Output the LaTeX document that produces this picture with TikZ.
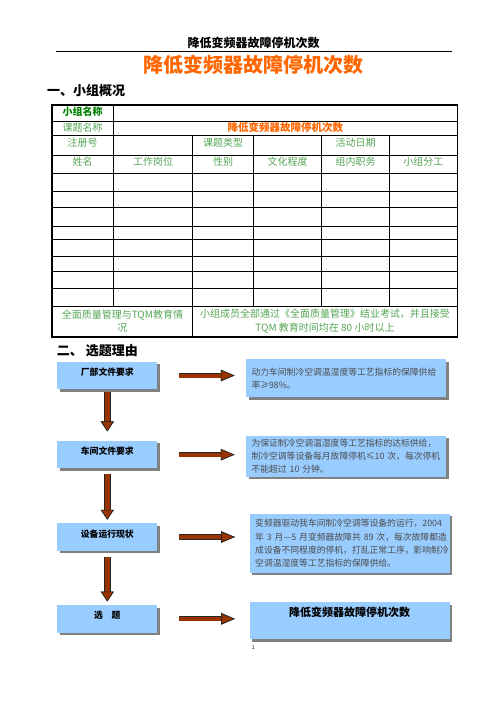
\documentclass[tikz,border=0pt]{standalone}
\usepackage{fontspec}
\setmainfont{Noto Sans CJK SC}
\usepackage{xcolor}
\usepackage{tikz}
\usetikzlibrary{arrows.meta,shadows}

\definecolor{boxblue}{RGB}{153,204,255}
\definecolor{arrowbrown}{RGB}{153,51,0}
\definecolor{titleorange}{RGB}{255,102,0}
\definecolor{darkgreen}{RGB}{0,128,0}
\definecolor{palegreen}{RGB}{85,165,85}

\begin{document}
\begin{tikzpicture}[x=1pt,y=-1pt]
			\tikzstyle{cell}=[text=palegreen, inner sep=0pt, font=\fontsize{10}{13.4}\selectfont]
			\tikzstyle{reason}=[fill=boxblue, minimum width=100pt, minimum height=27.5pt, inner sep=0pt, text height=5pt, text depth=5pt, font=\fontsize{8.8}{10}\selectfont\bfseries, drop shadow={shadow xshift=2.5pt, shadow yshift=-2.5pt, fill=black!50, opacity=1}]
			\tikzstyle{detail}=[fill=boxblue, text=black!70, text width=189pt, inner xsep=5.5pt, inner ysep=3pt, align=left, font=\fontsize{8.8}{13.3}\selectfont, drop shadow={shadow xshift=2.5pt, shadow yshift=-2.5pt, fill=black!50, opacity=1}]
			\tikzset{pushdown/.style = {draw=arrowbrown, line width=5.6pt, -{Triangle[width=12.7pt,length=10pt,fill=arrowbrown,color=black!85,line width=0.6pt]}, preaction={draw=black!85, line width=6.8pt, -{Triangle[width=12.7pt,length=10pt]}}}}
			\tikzset{pushright/.style = {draw=arrowbrown, line width=4pt, -{Triangle[width=10.7pt,length=14pt,fill=arrowbrown,color=black!85,line width=0.6pt]}, preaction={draw=black!85, line width=5.2pt, -{Triangle[width=10.7pt,length=14pt]}}}}
			
			\useasboundingbox (0,0) rectangle (496,702);
			
			% page head and title
			\node[font=\fontsize{12}{14}\selectfont\bfseries](header) at (253.5,43) {降低变频器故障停机次数};
			\draw[line width=0.8pt] (56,51.3) -- (452,51.3);
			\node[text=titleorange, font=\fontsize{20}{24}\selectfont\bfseries](title) at (253.5,65) {降低变频器故障停机次数};
			\node[anchor=west, inner sep=0pt, font=\fontsize{13}{15}\selectfont\bfseries](sec1) at (47,91) {一、小组概况};
			
			% table
			\foreach \y in {121,135,155.3,173.3,191.7,207.5,226,239.3,256,271.7,288.3,306}
				\draw[line width=0.6pt] (52,\y) -- (457.3,\y);
			\draw[line width=0.6pt] (113.3,105) -- (113.3,306);
			\draw[line width=0.6pt] (192.7,135) -- (192.7,336.7);
			\foreach \x in {253.3,321.7,389.3}
				\draw[line width=0.6pt] (\x,135) -- (\x,306);
			\draw[line width=1.6pt] (52,105) rectangle (457.3,336.7);
			
			\node[cell, text=darkgreen, font=\fontsize{10}{12}\selectfont\bfseries](groupname) at (82.7,111.5) {小组名称};
			\node[cell](topicname) at (82.7,127.5) {课题名称};
			\node[cell, text=titleorange, font=\fontsize{10.5}{12}\selectfont\bfseries](topic) at (285.3,127.5) {降低变频器故障停机次数};
			\node[cell](regno) at (82.7,142.7) {注册号};
			\node[cell](topictype) at (223,142.7) {课题类型};
			\node[cell](actdate) at (355.5,142.7) {活动日期};
			\node[cell](name) at (82.7,161.7) {姓名};
			\node[cell](post) at (153,161.7) {工作岗位};
			\node[cell](sex) at (223,161.7) {性别};
			\node[cell](edu) at (287.5,161.7) {文化程度};
			\node[cell](duty) at (355.5,161.7) {组内职务};
			\node[cell](task) at (423.3,161.7) {小组分工};
			\node[cell, align=center](tqm) at (122.4,321) {全面质量管理与TQM教育情\\况};
			\node[cell, align=center](tqmtxt) at (325,321) {小组成员全部通过《全面质量管理》结业考试，并且接受\\TQM 教育时间均在 80 小时以上};
			
			% reasons
			\node[anchor=west, inner sep=0pt, font=\fontsize{13}{15}\selectfont\bfseries](sec2) at (56.7,351) {二、 选题理由};
			
			\node[reason](factory) at (107.3,375.5) {厂部文件要求};
			\node[reason](workshop) at (107.3,454.7) {车间文件要求};
			\node[reason](status) at (107.3,537) {设备运行现状};
			\node[reason](choice) at (107.3,618.8) {选　题};
			
			\node[detail, minimum height=38pt](factorytxt) at (346,378.3) {\mbox{动力车间制冷空调温湿度等工艺指标的保障供给}\\率≥98\%。};
			\node[detail, minimum height=39.3pt](workshoptxt) at (346,456.3) {\mbox{为保证制冷空调温湿度等工艺指标的达标供给，}\\\mbox{制冷空调等设备每月故障停机≤10 次，每次停机}\\\mbox{不能超过 10 分钟。}};
			\node[detail, minimum height=58.7pt](statustxt) at (349.7,543.3) {\mbox{变频器驱动我车间制冷空调等设备的运行，2004}\\\mbox{年 3 月—5 月变频器故障共 89 次，每次故障都造}\\\mbox{成设备不同程度的停机，打乱正常工序，影响制冷}\\\mbox{空调温湿度等工艺指标的保障供给。}};
			\node[detail, minimum height=36.7pt, text=black, align=center, text height=4pt, text depth=12.4pt, font=\fontsize{11}{13}\selectfont\bfseries](choicetxt) at (349.7,620.7) {降低变频器故障停机次数};
			
			\draw[pushdown, shorten <=2.4pt, shorten >=9.3pt](factory) to (workshop);
			\draw[pushdown, shorten <=4.9pt, shorten >=3.3pt](workshop) to (status);
			\draw[pushdown, shorten <=6pt, shorten >=3.3pt](status) to (choice);
			
			\draw[pushright, shorten <=21pt, shorten >=11pt](factory) to (factory -| factorytxt.west);
			\draw[pushright, shorten <=21pt, shorten >=11pt](workshop) to (workshop -| workshoptxt.west);
			\draw[pushright, shorten <=21pt, shorten >=14.3pt](status) to (status -| statustxt.west);
			\draw[pushright, shorten <=21pt, shorten >=14.3pt](choice) to (choice -| choicetxt.west);
			
			\node[inner sep=0pt, font=\fontsize{5}{6}\selectfont](pageno) at (253.3,647.3) {1};
			
\end{tikzpicture}
\end{document}
